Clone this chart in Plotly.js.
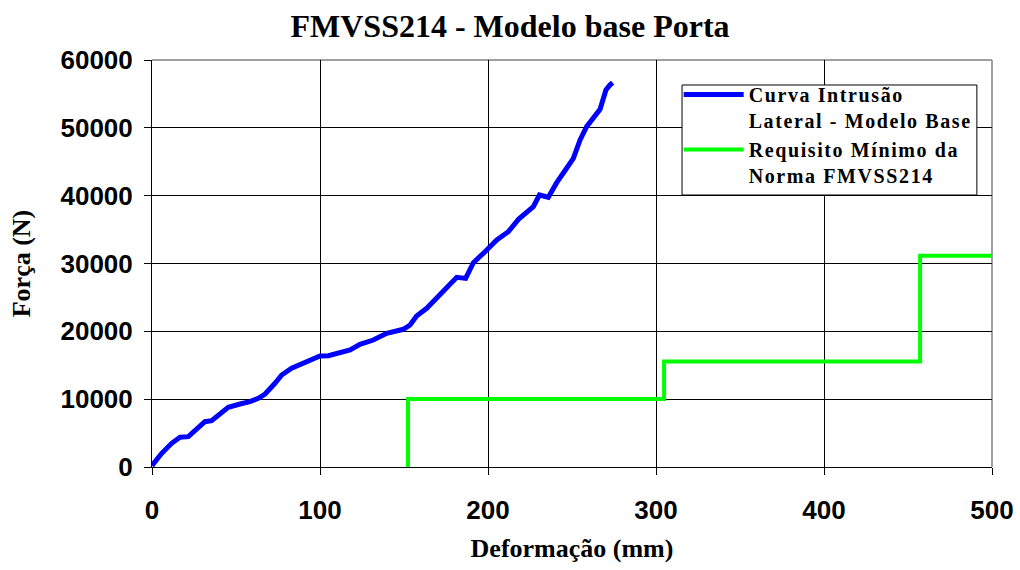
<!DOCTYPE html>
<html>
<head>
<meta charset="utf-8">
<script src="https://cdn.plot.ly/plotly-3.0.1.min.js"></script>
<style>html,body{margin:0;padding:0;background:#fff;}#chart{width:1020px;height:570px;}
.legendtext{letter-spacing:1.6px;}</style>
</head>
<body>
<div id="chart"></div>
<script>
// Curva Intrusão Lateral - Modelo Base (deformação mm, força N)
const curveX = [0, 5.8, 11.7, 16.7, 21.6, 26.6, 31.5, 35.5, 40.5, 45.4, 52.4, 58.3, 63.3, 67.3, 73.2, 77.2, 83.1, 92.1, 100, 105, 111.9, 117.9, 123.8, 131.7, 139.7, 149.6, 153.6, 157.5, 163.5, 171.4, 181.4, 186.7, 191.3, 198.2, 205.2, 212.1, 218.1, 227, 230.6, 235.9, 240.9, 246.8, 250.8, 254.8, 258.7, 266.7, 270.2, 272.5, 274.2];
const curveY = [200, 2020, 3490, 4380, 4470, 5700, 6680, 6830, 7920, 8800, 9290, 9630, 10130, 10760, 12340, 13560, 14550, 15530, 16360, 16410, 16850, 17250, 18090, 18720, 19710, 20300, 20930, 22260, 23390, 25360, 27960, 27810, 30120, 31740, 33460, 34690, 36510, 38370, 40100, 39760, 41920, 44040, 45510, 48210, 50170, 52740, 55580, 56300, 56650];
// Requisito Mínimo da Norma FMVSS214
const normX = [152.4, 152.4, 304.8, 304.8, 457.2, 457.2, 500];
const normY = [0, 10008, 10008, 15569, 15569, 31138, 31138];
const xTicks = [0, 100, 200, 300, 400, 500];
const yTicks = [0, 10000, 20000, 30000, 40000, 50000, 60000];
const names = ['Curva Intrusão<br>Lateral - Modelo Base', 'Requisito Mínimo da<br>Norma FMVSS214'];

const serif = '"Liberation Serif", "Times New Roman", serif';
const sans = '"Liberation Sans", Arial, sans-serif';

const traces = [
  {x: curveX, y: curveY, name: names[0], mode: 'lines', type: 'scatter',
   line: {color: '#0000ff', width: 5}},
  {x: normX, y: normY, name: names[1], mode: 'lines', type: 'scatter',
   line: {color: '#00ff00', width: 4}}
];

const layout = {
  width: 1020, height: 570,
  margin: {l: 152, r: 28, t: 60, b: 103},
  paper_bgcolor: '#ffffff', plot_bgcolor: '#ffffff',
  title: {text: 'FMVSS214 - Modelo base Porta', x: 0.5, xanchor: 'center', y: 0.955, yanchor: 'middle',
          font: {family: serif, size: 32, color: '#000', weight: 'bold'}},
  xaxis: {range: [0, 500], tickvals: xTicks, ticktext: xTicks.map(String),
          showgrid: true, gridcolor: '#000', gridwidth: 1, zeroline: false,
          showline: true, linecolor: '#000', linewidth: 1,
          ticks: 'outside', ticklen: 7, tickcolor: '#000', tickwidth: 1,
          ticklabelstandoff: 13,
          tickfont: {family: sans, size: 26, color: '#000', weight: 'bold'},
          title: {text: 'Deformação (mm)', standoff: 14, font: {family: serif, size: 26, color: '#000', weight: 'bold'}}},
  yaxis: {range: [0, 60000], tickvals: yTicks, ticktext: yTicks.map(String),
          showgrid: true, gridcolor: '#000', gridwidth: 1, zeroline: false,
          showline: true, linecolor: '#000', linewidth: 1,
          ticks: 'outside', ticklen: 7, tickcolor: '#000', tickwidth: 1,
          ticklabelstandoff: 6,
          tickfont: {family: sans, size: 26, color: '#000', weight: 'bold'},
          title: {text: 'Força (N)', standoff: 22, font: {family: serif, size: 26, color: '#000', weight: 'bold'}}},
  showlegend: true,
  legend: {x: 0.627, y: 0.963, xanchor: 'left', yanchor: 'top',
           bgcolor: 'rgba(0,0,0,0)', borderwidth: 0,
           valign: 'top', itemwidth: 60, tracegroupgap: 0,
           font: {family: serif, size: 20, color: '#000', weight: 'bold'}},
  shapes: [
    {type: 'line', xref: 'paper', yref: 'paper', x0: 0, x1: 1, y0: 1, y1: 1, line: {color: '#a0a0a0', width: 2}, layer: 'below'},
    {type: 'line', xref: 'paper', yref: 'paper', x0: 1, x1: 1, y0: 0, y1: 1, line: {color: '#a0a0a0', width: 2}, layer: 'below'},
    {type: 'rect', xref: 'paper', yref: 'paper', x0: 0.631, x1: 0.982, y0: 0.6683, y1: 0.9386,
     fillcolor: '#ffffff', line: {color: '#000', width: 1}, layer: 'above'}
  ]
};

Plotly.newPlot('chart', traces, layout, {displayModeBar: false, staticPlot: true});
</script>
</body>
</html>
